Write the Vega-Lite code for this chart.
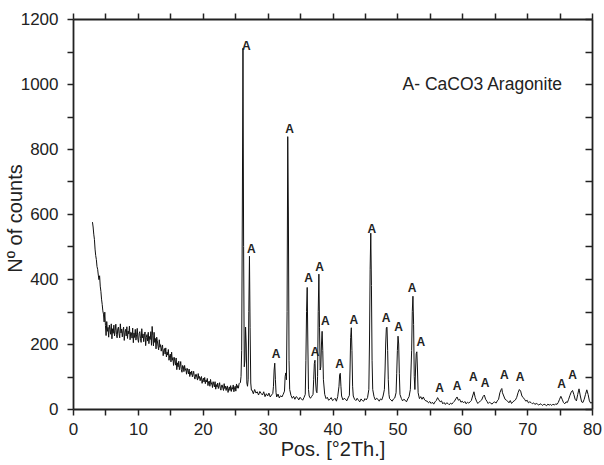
{
  "$schema": "https://vega.github.io/schema/vega-lite/v6.json",
  "width": 519,
  "height": 390,
  "autosize": {"type": "none"},
  "padding": {"left": 73, "top": 19, "right": 12, "bottom": 56},
  "background": "white",
  "config": {
    "view": {"stroke": null},
    "font": "Liberation Sans",
    "axis": {
      "grid": false,
      "domainColor": "#222",
      "domainWidth": 1.8,
      "tickColor": "#222",
      "tickWidth": 1.5,
      "labelColor": "#222",
      "titleColor": "#222",
      "labelFont": "Liberation Sans",
      "titleFont": "Liberation Sans",
      "labelFontSize": 17,
      "titleFontSize": 20,
      "titleFontWeight": "normal"
    }
  },
  "layer": [
    {
      "data": {"values": [
        {"x":3.0,"y":575},{"x":3.1,"y":560},{"x":3.2,"y":538},{"x":3.3,"y":522},{"x":3.4,"y":492},{"x":3.5,"y":472},{"x":3.6,"y":460},{"x":3.7,"y":438},{"x":3.8,"y":430},{"x":3.9,"y":412},
        {"x":4.0,"y":398},{"x":4.1,"y":410},{"x":4.2,"y":378},{"x":4.3,"y":362},{"x":4.4,"y":338},{"x":4.5,"y":322},{"x":4.6,"y":302},{"x":4.7,"y":292},{"x":4.8,"y":268},{"x":4.9,"y":298},
        {"x":5.0,"y":257},{"x":5.1,"y":226},{"x":5.2,"y":269},{"x":5.3,"y":239},{"x":5.4,"y":251},{"x":5.5,"y":221},{"x":5.6,"y":258},{"x":5.7,"y":245},{"x":5.8,"y":230},{"x":5.9,"y":262},
        {"x":6.0,"y":216},{"x":6.1,"y":247},{"x":6.2,"y":233},{"x":6.3,"y":258},{"x":6.4,"y":225},{"x":6.5,"y":242},{"x":6.6,"y":261},{"x":6.7,"y":229},{"x":6.8,"y":219},{"x":6.9,"y":247},
        {"x":7.0,"y":252},{"x":7.1,"y":232},{"x":7.2,"y":219},{"x":7.3,"y":262},{"x":7.4,"y":234},{"x":7.5,"y":246},{"x":7.6,"y":222},{"x":7.7,"y":241},{"x":7.8,"y":252},{"x":7.9,"y":211},
        {"x":8.0,"y":236},{"x":8.1,"y":245},{"x":8.2,"y":225},{"x":8.3,"y":253},{"x":8.4,"y":217},{"x":8.5,"y":240},{"x":8.6,"y":231},{"x":8.7,"y":255},{"x":8.8,"y":213},{"x":8.9,"y":236},
        {"x":9.0,"y":234},{"x":9.1,"y":218},{"x":9.2,"y":249},{"x":9.3,"y":204},{"x":9.4,"y":234},{"x":9.5,"y":220},{"x":9.6,"y":245},{"x":9.7,"y":212},{"x":9.8,"y":228},{"x":9.9,"y":248},
        {"x":10.0,"y":215},{"x":10.1,"y":205},{"x":10.2,"y":233},{"x":10.3,"y":238},{"x":10.4,"y":217},{"x":10.5,"y":205},{"x":10.6,"y":247},{"x":10.7,"y":219},{"x":10.8,"y":231},{"x":10.9,"y":207},
        {"x":11.0,"y":225},{"x":11.1,"y":237},{"x":11.2,"y":195},{"x":11.3,"y":220},{"x":11.4,"y":229},{"x":11.5,"y":209},{"x":11.6,"y":236},{"x":11.7,"y":201},{"x":11.8,"y":223},{"x":11.9,"y":214},
        {"x":12.0,"y":238},{"x":12.1,"y":196},{"x":12.2,"y":254},{"x":12.3,"y":225},{"x":12.4,"y":194},{"x":12.5,"y":236},{"x":12.6,"y":205},{"x":12.7,"y":217},{"x":12.8,"y":185},{"x":12.9,"y":221},
        {"x":13.0,"y":210},{"x":13.1,"y":193},{"x":13.2,"y":182},{"x":13.3,"y":213},{"x":13.4,"y":190},{"x":13.5,"y":198},{"x":13.6,"y":178},{"x":13.7,"y":190},{"x":13.8,"y":197},{"x":13.9,"y":164},
        {"x":14.0,"y":181},{"x":14.1,"y":186},{"x":14.2,"y":169},{"x":14.3,"y":188},{"x":14.4,"y":160},{"x":14.5,"y":175},{"x":14.6,"y":166},{"x":14.7,"y":183},{"x":14.8,"y":150},{"x":14.9,"y":165},
        {"x":15.0,"y":169},{"x":15.1,"y":145},{"x":15.2,"y":175},{"x":15.3,"y":150},{"x":15.4,"y":158},{"x":15.5,"y":134},{"x":15.6,"y":159},{"x":15.7,"y":148},{"x":15.8,"y":135},{"x":15.9,"y":157},
        {"x":16.0,"y":121},{"x":16.1,"y":142},{"x":16.2,"y":130},{"x":16.3,"y":147},{"x":16.4,"y":121},{"x":16.5,"y":132},{"x":16.6,"y":146},{"x":16.7,"y":121},{"x":16.8,"y":113},{"x":16.9,"y":134},
        {"x":17.0,"y":131},{"x":17.1,"y":115},{"x":17.2,"y":134},{"x":17.3,"y":119},{"x":17.4,"y":124},{"x":17.5,"y":107},{"x":17.6,"y":125},{"x":17.7,"y":118},{"x":17.8,"y":108},{"x":17.9,"y":123},
        {"x":18.0,"y":100},{"x":18.1,"y":114},{"x":18.2,"y":106},{"x":18.3,"y":117},{"x":18.4,"y":99},{"x":18.5,"y":107},{"x":18.6,"y":116},{"x":18.7,"y":99},{"x":18.8,"y":92},{"x":18.9,"y":106},
        {"x":19.0,"y":107},{"x":19.1,"y":96},{"x":19.2,"y":89},{"x":19.3,"y":109},{"x":19.4,"y":94},{"x":19.5,"y":100},{"x":19.6,"y":87},{"x":19.7,"y":96},{"x":19.8,"y":100},{"x":19.9,"y":79},
        {"x":20.0,"y":90},{"x":20.1,"y":95},{"x":20.2,"y":83},{"x":20.3,"y":97},{"x":20.4,"y":78},{"x":20.5,"y":89},{"x":20.6,"y":83},{"x":20.7,"y":94},{"x":20.8,"y":72},{"x":20.9,"y":83},
        {"x":21.0,"y":86},{"x":21.1,"y":70},{"x":21.2,"y":91},{"x":21.3,"y":76},{"x":21.4,"y":81},{"x":21.5,"y":66},{"x":21.6,"y":84},{"x":21.7,"y":77},{"x":21.8,"y":68},{"x":21.9,"y":84},
        {"x":22.0,"y":61},{"x":22.1,"y":75},{"x":22.2,"y":68},{"x":22.3,"y":80},{"x":22.4,"y":63},{"x":22.5,"y":71},{"x":22.6,"y":81},{"x":22.7,"y":64},{"x":22.8,"y":58},{"x":22.9,"y":73},
        {"x":23.0,"y":74},{"x":23.1,"y":64},{"x":23.2,"y":57},{"x":23.3,"y":78},{"x":23.4,"y":63},{"x":23.5,"y":70},{"x":23.6,"y":57},{"x":23.7,"y":67},{"x":23.8,"y":71},{"x":23.9,"y":51},
        {"x":24.0,"y":62},{"x":24.1,"y":68},{"x":24.2,"y":57},{"x":24.3,"y":72},{"x":24.4,"y":54},{"x":24.5,"y":66},{"x":24.6,"y":61},{"x":24.7,"y":74},{"x":24.8,"y":53},{"x":24.9,"y":65},
        {"x":25.0,"y":70},{"x":25.1,"y":55},{"x":25.2,"y":77},{"x":25.3,"y":64},{"x":25.4,"y":72},{"x":25.5,"y":64},{"x":25.6,"y":78},{"x":25.7,"y":80},{"x":25.8,"y":81},{"x":25.9,"y":100},
        {"x":26.0,"y":180},{"x":26.1,"y":600},{"x":26.2,"y":1110},{"x":26.3,"y":500},{"x":26.4,"y":130},{"x":26.5,"y":150},{"x":26.6,"y":252},{"x":26.7,"y":200},{"x":26.8,"y":80},{"x":26.9,"y":70},
        {"x":27.0,"y":90},{"x":27.1,"y":300},{"x":27.2,"y":470},{"x":27.3,"y":250},{"x":27.4,"y":80},{"x":27.5,"y":58},{"x":27.6,"y":58},{"x":27.8,"y":47},{"x":28.0,"y":60},{"x":28.2,"y":49},
        {"x":28.4,"y":53},{"x":28.6,"y":43},{"x":28.8,"y":54},{"x":29.0,"y":48},{"x":29.2,"y":43},{"x":29.4,"y":53},{"x":29.6,"y":38},{"x":29.8,"y":47},{"x":30.0,"y":40},{"x":30.2,"y":49},
        {"x":30.4,"y":37},{"x":30.6,"y":43},{"x":30.8,"y":48},{"x":30.9,"y":70},{"x":31.0,"y":120},{"x":31.1,"y":141},{"x":31.2,"y":90},{"x":31.3,"y":50},{"x":31.4,"y":37},{"x":31.6,"y":46},
        {"x":31.8,"y":34},{"x":32.0,"y":41},{"x":32.2,"y":37},{"x":32.4,"y":45},{"x":32.6,"y":55},{"x":32.7,"y":100},{"x":32.8,"y":111},{"x":32.9,"y":90},{"x":33.0,"y":300},{"x":33.1,"y":838},
        {"x":33.2,"y":600},{"x":33.3,"y":150},{"x":33.4,"y":60},{"x":33.6,"y":42},{"x":33.8,"y":33},{"x":34.0,"y":39},{"x":34.2,"y":30},{"x":34.4,"y":38},{"x":34.6,"y":35},{"x":34.8,"y":28},
        {"x":35.0,"y":36},{"x":35.2,"y":31},{"x":35.4,"y":27},{"x":35.6,"y":35},{"x":35.8,"y":45},{"x":35.9,"y":150},{"x":36.0,"y":300},{"x":36.1,"y":374},{"x":36.2,"y":200},{"x":36.3,"y":60},
        {"x":36.4,"y":40},{"x":36.6,"y":33},{"x":36.8,"y":39},{"x":37.0,"y":45},{"x":37.1,"y":90},{"x":37.2,"y":140},{"x":37.3,"y":150},{"x":37.4,"y":80},{"x":37.5,"y":55},{"x":37.6,"y":50},
        {"x":37.7,"y":100},{"x":37.8,"y":300},{"x":37.9,"y":415},{"x":38.0,"y":250},{"x":38.1,"y":120},{"x":38.2,"y":130},{"x":38.3,"y":200},{"x":38.4,"y":239},{"x":38.5,"y":180},{"x":38.6,"y":90},
        {"x":38.8,"y":45},{"x":39.0,"y":32},{"x":39.2,"y":36},{"x":39.4,"y":27},{"x":39.6,"y":30},{"x":39.8,"y":35},{"x":40.0,"y":26},{"x":40.2,"y":29},{"x":40.4,"y":33},{"x":40.6,"y":24},
        {"x":40.8,"y":38},{"x":41.0,"y":70},{"x":41.1,"y":105},{"x":41.2,"y":110},{"x":41.3,"y":70},{"x":41.4,"y":40},{"x":41.6,"y":28},{"x":41.8,"y":33},{"x":42.0,"y":30},{"x":42.2,"y":25},
        {"x":42.4,"y":34},{"x":42.6,"y":42},{"x":42.7,"y":120},{"x":42.8,"y":220},{"x":42.9,"y":250},{"x":43.0,"y":180},{"x":43.1,"y":70},{"x":43.2,"y":40},{"x":43.4,"y":30},{"x":43.6,"y":26},
        {"x":43.8,"y":33},{"x":44.0,"y":27},{"x":44.2,"y":22},{"x":44.4,"y":31},{"x":44.6,"y":26},{"x":44.8,"y":24},{"x":45.0,"y":32},{"x":45.2,"y":28},{"x":45.4,"y":35},{"x":45.6,"y":60},
        {"x":45.7,"y":200},{"x":45.8,"y":430},{"x":45.9,"y":541},{"x":46.0,"y":380},{"x":46.1,"y":150},{"x":46.2,"y":60},{"x":46.4,"y":38},{"x":46.6,"y":28},{"x":46.8,"y":33},{"x":47.0,"y":30},
        {"x":47.2,"y":24},{"x":47.4,"y":31},{"x":47.6,"y":28},{"x":47.8,"y":40},{"x":48.0,"y":60},{"x":48.1,"y":120},{"x":48.2,"y":200},{"x":48.3,"y":250},{"x":48.4,"y":252},{"x":48.5,"y":180},
        {"x":48.6,"y":90},{"x":48.7,"y":45},{"x":48.8,"y":32},{"x":49.0,"y":28},{"x":49.2,"y":24},{"x":49.4,"y":31},{"x":49.6,"y":34},{"x":49.8,"y":50},{"x":49.9,"y":110},{"x":50.0,"y":180},
        {"x":50.1,"y":224},{"x":50.2,"y":200},{"x":50.3,"y":110},{"x":50.4,"y":45},{"x":50.6,"y":33},{"x":50.8,"y":25},{"x":51.0,"y":30},{"x":51.2,"y":27},{"x":51.4,"y":22},{"x":51.6,"y":31},
        {"x":51.8,"y":38},{"x":52.0,"y":60},{"x":52.2,"y":180},{"x":52.3,"y":300},{"x":52.4,"y":347},{"x":52.5,"y":260},{"x":52.6,"y":100},{"x":52.7,"y":60},{"x":52.8,"y":120},{"x":52.9,"y":170},
        {"x":53.0,"y":176},{"x":53.1,"y":120},{"x":53.2,"y":50},{"x":53.4,"y":32},{"x":53.6,"y":38},{"x":53.8,"y":30},{"x":54.0,"y":37},{"x":54.2,"y":28},{"x":54.4,"y":25},{"x":54.6,"y":24},
        {"x":54.8,"y":19},{"x":55.0,"y":23},{"x":55.2,"y":17},{"x":55.4,"y":21},{"x":55.6,"y":15},{"x":55.8,"y":22},{"x":56.0,"y":26},{"x":56.2,"y":35},{"x":56.4,"y":28},{"x":56.6,"y":22},
        {"x":56.8,"y":25},{"x":57.0,"y":16},{"x":57.2,"y":20},{"x":57.4,"y":14},{"x":57.6,"y":19},{"x":57.8,"y":17},{"x":58.0,"y":13},{"x":58.2,"y":18},{"x":58.4,"y":15},{"x":58.6,"y":20},
        {"x":58.8,"y":24},{"x":59.0,"y":31},{"x":59.2,"y":37},{"x":59.4,"y":27},{"x":59.6,"y":30},{"x":59.8,"y":21},{"x":60.0,"y":24},{"x":60.2,"y":19},{"x":60.4,"y":23},{"x":60.6,"y":16},
        {"x":60.8,"y":21},{"x":61.0,"y":18},{"x":61.2,"y":22},{"x":61.4,"y":26},{"x":61.6,"y":40},{"x":61.8,"y":53},{"x":62.0,"y":35},{"x":62.2,"y":24},{"x":62.4,"y":17},{"x":62.6,"y":21},
        {"x":62.8,"y":25},{"x":63.0,"y":28},{"x":63.2,"y":38},{"x":63.4,"y":43},{"x":63.6,"y":30},{"x":63.8,"y":24},{"x":64.0,"y":17},{"x":64.2,"y":21},{"x":64.4,"y":18},{"x":64.6,"y":15},
        {"x":64.8,"y":20},{"x":65.0,"y":22},{"x":65.2,"y":18},{"x":65.4,"y":25},{"x":65.6,"y":30},{"x":65.8,"y":50},{"x":66.0,"y":60},{"x":66.1,"y":63},{"x":66.2,"y":50},{"x":66.4,"y":40},
        {"x":66.6,"y":30},{"x":66.8,"y":27},{"x":67.0,"y":24},{"x":67.2,"y":19},{"x":67.4,"y":26},{"x":67.6,"y":17},{"x":67.8,"y":22},{"x":68.0,"y":25},{"x":68.2,"y":28},{"x":68.4,"y":36},
        {"x":68.6,"y":50},{"x":68.8,"y":60},{"x":69.0,"y":55},{"x":69.2,"y":40},{"x":69.4,"y":35},{"x":69.6,"y":30},{"x":69.8,"y":24},{"x":70.0,"y":27},{"x":70.2,"y":19},{"x":70.4,"y":22},
        {"x":70.6,"y":20},{"x":70.8,"y":16},{"x":71.0,"y":19},{"x":71.2,"y":14},{"x":71.4,"y":17},{"x":71.6,"y":15},{"x":71.8,"y":12},{"x":72.0,"y":16},{"x":72.2,"y":14},{"x":72.4,"y":11},
        {"x":72.6,"y":15},{"x":72.8,"y":13},{"x":73.0,"y":10},{"x":73.2,"y":15},{"x":73.4,"y":12},{"x":73.6,"y":14},{"x":73.8,"y":11},{"x":74.0,"y":15},{"x":74.2,"y":12},{"x":74.4,"y":16},
        {"x":74.6,"y":14},{"x":74.8,"y":20},{"x":75.0,"y":30},{"x":75.2,"y":39},{"x":75.4,"y":30},{"x":75.6,"y":20},{"x":75.8,"y":16},{"x":76.0,"y":22},{"x":76.2,"y":20},{"x":76.4,"y":30},
        {"x":76.6,"y":42},{"x":76.8,"y":52},{"x":77.0,"y":57},{"x":77.2,"y":45},{"x":77.4,"y":30},{"x":77.6,"y":25},{"x":77.8,"y":45},{"x":78.0,"y":62},{"x":78.2,"y":40},{"x":78.4,"y":22},
        {"x":78.6,"y":20},{"x":78.8,"y":30},{"x":79.0,"y":45},{"x":79.2,"y":59},{"x":79.4,"y":45},{"x":79.6,"y":25},{"x":79.8,"y":18},{"x":80.0,"y":20}
      ]},
      "mark": {"type": "line", "color": "#111", "strokeWidth": 1},
      "encoding": {
        "x": {
          "field": "x", "type": "quantitative",
          "scale": {"domain": [0, 80], "nice": false, "zero": false},
          "axis": {
            "orient": "bottom",
            "values": [0,5,10,15,20,25,30,35,40,45,50,55,60,65,70,75,80],
            "labelExpr": "datum.value % 10 === 0 ? datum.label : ''",
            "tickSize": 6,
            "labelPadding": 6,
            "labelFlush": false,
            "labelOverlap": false,
            "title": "Pos. [°2Th.]",
            "titlePadding": 2
          }
        },
        "y": {
          "field": "y", "type": "quantitative",
          "scale": {"domain": [0, 1200], "nice": false},
          "axis": {
            "orient": "left",
            "values": [0,100,200,300,400,500,600,700,800,900,1000,1100,1200],
            "labelExpr": "datum.value % 200 === 0 ? datum.label : ''",
            "format": "d",
            "tickSize": 6,
            "labelPadding": 9,
            "labelFlush": false,
            "labelOverlap": false,
            "title": "Nº of counts",
            "titleX": -58,
            "titleY": 199,
            "titleAngle": -90,
            "titleBaseline": "middle",
            "titleAlign": "center"
          }
        }
      }
    },
    {
      "data": {"values": [
        {"x":26.7,"y":1116,"label":"A"},{"x":27.5,"y":492,"label":"A"},{"x":31.3,"y":168,"label":"A"},{"x":33.4,"y":863,"label":"A"},
        {"x":36.3,"y":404,"label":"A"},{"x":37.3,"y":176,"label":"A"},{"x":38.0,"y":437,"label":"A"},{"x":38.9,"y":270,"label":"A"},
        {"x":41.1,"y":139,"label":"A"},{"x":43.3,"y":275,"label":"A"},{"x":46.05,"y":555,"label":"A"},{"x":48.25,"y":280,"label":"A"},
        {"x":50.2,"y":253,"label":"A"},{"x":52.25,"y":372,"label":"A"},{"x":53.6,"y":207,"label":"A"},{"x":56.5,"y":65,"label":"A"},
        {"x":59.2,"y":71,"label":"A"},{"x":61.7,"y":98,"label":"A"},{"x":63.5,"y":81,"label":"A"},{"x":66.5,"y":104,"label":"A"},
        {"x":68.9,"y":98,"label":"A"},{"x":75.3,"y":76,"label":"A"},{"x":77.0,"y":104,"label":"A"}
      ]},
      "mark": {"type": "text", "font": "Liberation Sans", "fontSize": 12, "fontWeight": "bold", "color": "#222", "align": "center", "baseline": "middle"},
      "encoding": {
        "x": {
          "field": "x", "type": "quantitative",
          "scale": {"domain": [0, 80], "nice": false, "zero": false},
          "axis": {
            "orient": "top",
            "values": [0,5,10,15,20,25,30,35,40,45,50,55,60,65,70,75,80],
            "labels": false,
            "tickSize": 6,
            "title": null
          }
        },
        "y": {
          "field": "y", "type": "quantitative",
          "scale": {"domain": [0, 1200], "nice": false},
          "axis": {
            "orient": "right",
            "values": [0,100,200,300,400,500,600,700,800,900,1000,1100,1200],
            "labels": false,
            "tickSize": -7,
            "title": null
          }
        },
        "text": {"field": "label"}
      }
    },
    {
      "data": {"values": [{"x": 50.8, "y": 997, "label": "A- CaCO3 Aragonite"}]},
      "mark": {"type": "text", "font": "Liberation Sans", "fontSize": 17.5, "color": "#222", "align": "left", "baseline": "middle"},
      "encoding": {
        "x": {"field": "x", "type": "quantitative", "scale": {"domain": [0, 80], "nice": false, "zero": false}, "axis": null},
        "y": {"field": "y", "type": "quantitative", "scale": {"domain": [0, 1200], "nice": false}, "axis": null},
        "text": {"field": "label"}
      }
    }
  ],
  "resolve": {"axis": {"x": "independent", "y": "independent"}}
}
